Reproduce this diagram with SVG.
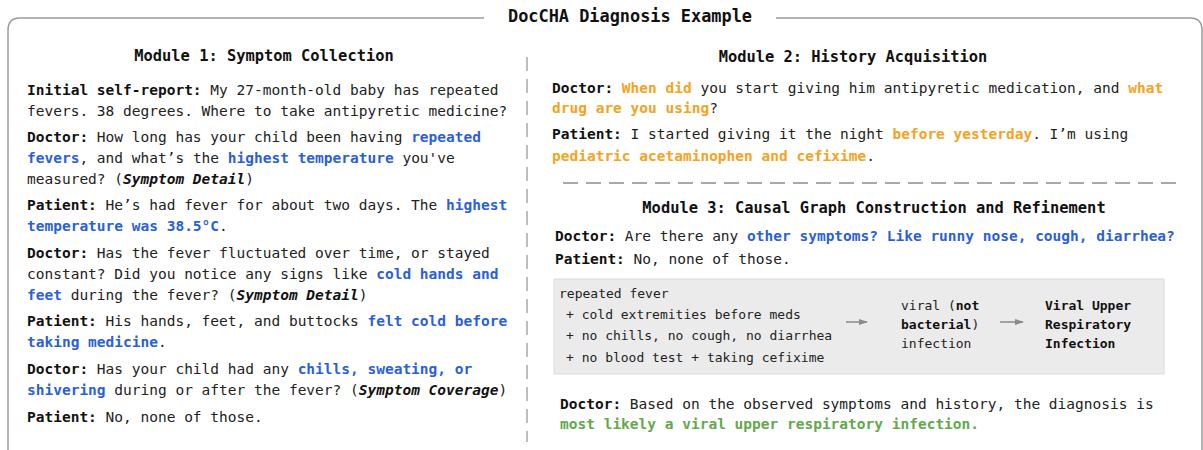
<svg xmlns="http://www.w3.org/2000/svg" width="1203" height="450" viewBox="0 0 1203 450">
<defs>
<style>
text{font-family:"DejaVu Sans Mono","Liberation Mono",monospace;fill:#222;}
.t{font-size:14.5px;}
.h{font-size:15.4px;font-weight:bold;fill:#111;}
.ttl{font-size:16.9px;font-weight:bold;fill:#111;}
.b{font-weight:bold;fill:#111;}
.bl{font-weight:bold;fill:#2b5fd9;}
.o{font-weight:bold;fill:#f5a21f;}
.g{font-weight:bold;fill:#62a84c;}
.bi{font-weight:bold;font-style:italic;fill:#111;}
.s{font-size:13px;}
.frame{fill:none;stroke:#9a9a9a;stroke-width:1.5;}
.div{stroke:#a8a8a8;stroke-width:1.5;stroke-dasharray:14 8;}
.conn{stroke:#8a8a8a;stroke-width:1.5;fill:none;}
</style>
<marker id="ah" viewBox="0 0 10 10" refX="9" refY="5" markerWidth="6" markerHeight="6" orient="auto">
<path d="M0,1.5 L10,5 L0,8.5 z" fill="#8a8a8a"/>
</marker>
</defs>
<rect width="1203" height="450" fill="#fff"/>
<g id="frame">
<path class="frame" d="M8 450 L8 30 Q8 18 20 18 L484 18 M776 18 L1190 18 Q1202 18 1202 30 L1202 450"/>
<text class="ttl" x="630" y="22" text-anchor="middle">DocCHA Diagnosis Example</text>
<line class="div" x1="527" y1="57" x2="527" y2="442"/>
</g>
<g id="module1">
<text class="h" x="264" y="61" text-anchor="middle">Module 1: Symptom Collection</text>
<text class="t" x="27" y="95"><tspan class="b">Initial self-report:</tspan> My 27-month-old baby has repeated</text>
<text class="t" x="27" y="116">fevers. 38 degrees. Where to take antipyretic medicine?</text>
<text class="t" x="27" y="142"><tspan class="b">Doctor:</tspan> How long has your child been having <tspan class="bl">repeated</tspan></text>
<text class="t" x="27" y="163"><tspan class="bl">fevers</tspan>, and what’s the <tspan class="bl">highest temperature</tspan> you've</text>
<text class="t" x="27" y="184">measured? (<tspan class="bi">Symptom Detail</tspan>)</text>
<text class="t" x="27" y="210"><tspan class="b">Patient:</tspan> He’s had fever for about two days. The <tspan class="bl">highest</tspan></text>
<text class="t" x="27" y="231"><tspan class="bl">temperature was 38.5°C</tspan>.</text>
<text class="t" x="27" y="258"><tspan class="b">Doctor:</tspan> Has the fever fluctuated over time, or stayed</text>
<text class="t" x="27" y="279">constant? Did you notice any signs like <tspan class="bl">cold hands and</tspan></text>
<text class="t" x="27" y="300"><tspan class="bl">feet</tspan> during the fever? (<tspan class="bi">Symptom Detail</tspan>)</text>
<text class="t" x="27" y="326"><tspan class="b">Patient:</tspan> His hands, feet, and buttocks <tspan class="bl">felt cold before</tspan></text>
<text class="t" x="27" y="347"><tspan class="bl">taking medicine</tspan>.</text>
<text class="t" x="27" y="374"><tspan class="b">Doctor:</tspan> Has your child had any <tspan class="bl">chills, sweating, or</tspan></text>
<text class="t" x="27" y="395"><tspan class="bl">shivering</tspan> during or after the fever? (<tspan class="bi">Symptom Coverage</tspan>)</text>
<text class="t" x="27" y="422"><tspan class="b">Patient:</tspan> No, none of those.</text>
</g>
<g id="module2">
<text class="h" x="853" y="62" text-anchor="middle">Module 2: History Acquisition</text>
<text class="t" x="552" y="93"><tspan class="b">Doctor:</tspan> <tspan class="o">When did</tspan> you start giving him antipyretic medication, and <tspan class="o">what</tspan></text>
<text class="t" x="552" y="113"><tspan class="o">drug are you using</tspan>?</text>
<text class="t" x="552" y="139"><tspan class="b">Patient:</tspan> I started giving it the night <tspan class="o">before yesterday</tspan>. I’m using</text>
<text class="t" x="552" y="161"><tspan class="o">pediatric acetaminophen and cefixime</tspan>.</text>
<line x1="563" y1="183" x2="1176" y2="183" stroke="#a8a8a8" stroke-width="2" stroke-dasharray="15 8"/>
</g>
<g id="module3">
<text class="h" x="874" y="213" text-anchor="middle">Module 3: Causal Graph Construction and Refinement</text>
<text class="t" x="555" y="241"><tspan class="b">Doctor:</tspan> Are there any <tspan class="bl">other symptoms? Like runny nose, cough, diarrhea?</tspan></text>
<text class="t" x="555" y="264"><tspan class="b">Patient:</tspan> No, none of those.</text>
</g>
<g id="graph-box">
<rect x="554" y="279" width="610" height="95" fill="#ebebeb" stroke="#dcdcdc" stroke-width="1"/>
</g>
<g id="node-evidence">
<text class="s" x="559" y="298">repeated fever</text>
<text class="s" x="566" y="319">+ cold extremities before meds</text>
<text class="s" x="566" y="340">+ no chills, no cough, no diarrhea</text>
<text class="s" x="566" y="362">+ no blood test + taking cefixime</text>
</g>
<g id="node-viral">
<text class="s" x="901" y="310">viral (<tspan class="b">not</tspan></text>
<text class="s" x="901" y="329"><tspan class="b">bacterial</tspan>)</text>
<text class="s" x="901" y="348">infection</text>
</g>
<g id="node-diagnosis">
<text class="s b" x="1045" y="310">Viral Upper</text>
<text class="s b" x="1045" y="329">Respiratory</text>
<text class="s b" x="1045" y="348">Infection</text>
</g>
<g id="connectors">
<line class="conn" x1="846" y1="322" x2="867" y2="322" marker-end="url(#ah)"/>
<line class="conn" x1="1000" y1="322" x2="1023" y2="322" marker-end="url(#ah)"/>
</g>
<g id="conclusion">
<text class="t" x="560" y="409"><tspan class="b">Doctor:</tspan> Based on the observed symptoms and history, the diagnosis is</text>
<text class="t" x="560" y="429"><tspan class="g">most likely a viral upper respiratory infection.</tspan></text>
</g>
</svg>
